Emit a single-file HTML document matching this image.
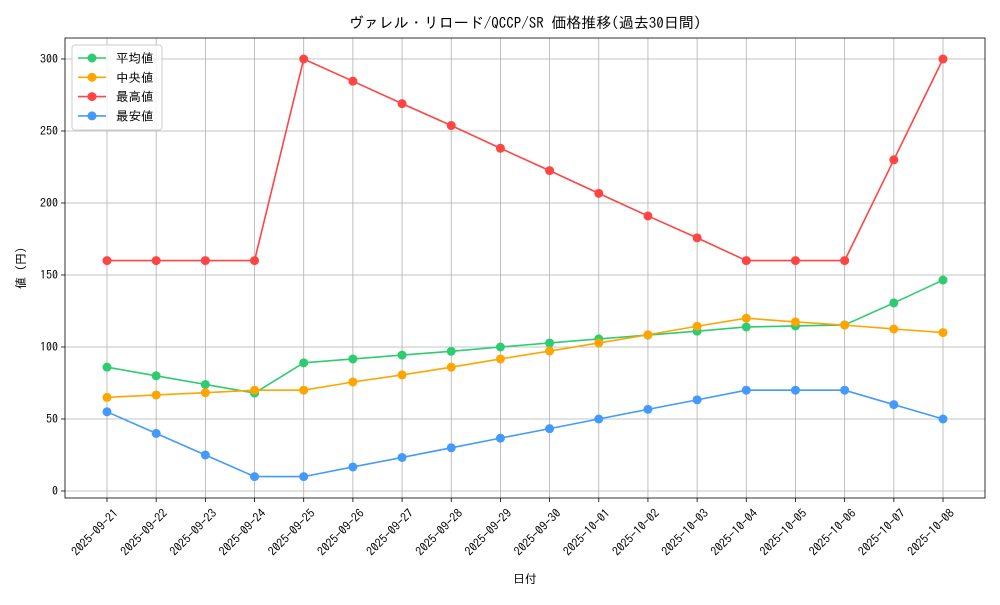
<!DOCTYPE html>
<html><head><meta charset="utf-8"><style>
body{margin:0;background:#fff}
svg text{font-family:"IPAGothic","Liberation Sans","Noto Sans CJK JP",sans-serif;fill:#000}
</style></head><body>
<svg id="c" width="1000" height="600" xmlns="http://www.w3.org/2000/svg"></svg>
<script>
const categories=["2025-09-21","2025-09-22","2025-09-23","2025-09-24","2025-09-25","2025-09-26","2025-09-27","2025-09-28","2025-09-29","2025-09-30","2025-10-01","2025-10-02","2025-10-03","2025-10-04","2025-10-05","2025-10-06","2025-10-07","2025-10-08"];
const avgValues=[86,80,74,68,89,91.7,94.4,97,100,102.8,105.6,108.3,111,113.9,114.6,115.3,130.6,146.5];
const medianValues=[65,66.7,68.3,70,70,75.7,80.6,86,91.7,97.2,102.8,108.5,114.4,120,117.4,115.2,112.5,110];
const maxValues=[160,160,160,160,300,284.6,269,253.8,238,222.5,206.7,191,175.8,160,160,160,230,300];
const minValues=[55,40,25,10,10,16.7,23.3,30,36.7,43.3,50,56.7,63.3,70,70,70,60,50];
const yTicks=[0,50,100,150,200,250,300];
const seriesNames=["平均値","中央値","最高値","最安値"];
const seriesColors=["#2ecc71","#ffa500","#ff4444","#4499ff"];
const L=65,R=985,T=38,B=498;
const svg=document.getElementById('c');
const NS="http://www.w3.org/2000/svg";
function x(i){return 107+i*(943-107)/(categories.length-1);}
function y(v){return 491-v*(491-59)/300;}
function mk(tag,attrs,parent){const e=document.createElementNS(NS,tag);for(const k in attrs)e.setAttribute(k,attrs[k]);(parent||svg).appendChild(e);return e;}
const grid=mk('g',{});


categories.forEach((c,i)=>{
  mk('line',{x1:x(i),x2:x(i),y1:T,y2:B,stroke:'#b0b0b0','stroke-width':0.8},grid);
  mk('line',{x1:x(i),x2:x(i),y1:B,y2:B+4,stroke:'#000','stroke-width':0.8});
  const t=mk('text',{x:0,y:0,'font-size':12,'text-anchor':'end',transform:`translate(${x(i)+12},${B+16}) rotate(-45)`});
  t.textContent=c;
  
  
});
yTicks.forEach(v=>{
  mk('line',{x1:L,x2:R,y1:y(v),y2:y(v),stroke:'#b0b0b0','stroke-width':0.8},grid);
  mk('line',{x1:L-4,x2:L,y1:y(v),y2:y(v),stroke:'#000','stroke-width':0.8});
  const t=mk('text',{x:L-7,y:y(v)+4,'font-size':12,'text-anchor':'end'});
  t.textContent=v;
  
  
});
const frame=mk('rect',{x:L,y:T,width:R-L,height:B-T,fill:'none',stroke:'#000','stroke-width':0.8});


[avgValues,medianValues,maxValues,minValues].forEach((vals,s)=>{
  const g=mk('g',{});
  
  
  mk('polyline',{points:vals.map((v,i)=>x(i)+','+y(v)).join(' '),fill:'none',stroke:seriesColors[s],'stroke-width':1.6},g);
  vals.forEach((v,i)=>{const p=mk('circle',{cx:x(i),cy:y(v),r:4.5,fill:seriesColors[s]},g);
    
    });
});
const title=mk('text',{x:525,y:28,'font-size':15,'text-anchor':'middle'});
title.textContent="ヴァレル・リロード/QCCP/SR 価格推移(過去30日間)";


const xl=mk('text',{x:525,y:583,'font-size':12,'text-anchor':'middle'});
xl.textContent="日付";


const yl=mk('text',{x:0,y:0,'font-size':12,'text-anchor':'middle',transform:'translate(25,268) rotate(-90)'});
yl.textContent="値 (円)";


const lg=mk('g',{});


mk('rect',{x:72,y:45,width:90,height:85,rx:3,fill:'#fff','fill-opacity':0.8,stroke:'#ccc'},lg);
seriesNames.forEach((n,s)=>{
  const yy=58+s*19.3;
  const e=mk('g',{},lg);
  
  
  mk('line',{x1:78,x2:106,y1:yy,y2:yy,stroke:seriesColors[s],'stroke-width':1.6},e);
  mk('circle',{cx:92,cy:yy,r:4.5,fill:seriesColors[s]},e);
  const t=mk('text',{x:116,y:yy+4.5,'font-size':12.5},e);t.textContent=n;
});
</script>
</body></html>
